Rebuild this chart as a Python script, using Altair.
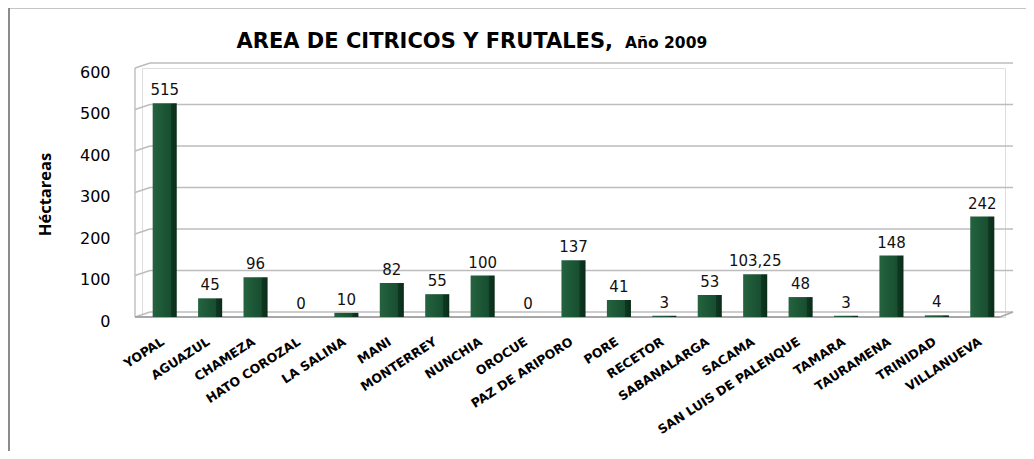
import altair as alt
import pandas as pd

municipios = ["YOPAL", "AGUAZUL", "CHAMEZA", "HATO COROZAL", "LA SALINA", "MANI",
              "MONTERREY", "NUNCHIA", "OROCUE", "PAZ DE ARIPORO", "PORE", "RECETOR",
              "SABANALARGA", "SACAMA", "SAN LUIS DE PALENQUE", "TAMARA", "TAURAMENA",
              "TRINIDAD", "VILLANUEVA"]
hectareas = [515, 45, 96, 0, 10, 82, 55, 100, 0, 137, 41, 3, 53, 103.25, 48, 3, 148, 4, 242]
etiquetas = ["515", "45", "96", "0", "10", "82", "55", "100", "0", "137", "41", "3",
             "53", "103,25", "48", "3", "148", "4", "242"]
y_ticks = [0, 100, 200, 300, 400, 500, 600]
title_main = "AREA DE CITRICOS Y FRUTALES,"
title_sub = "Año 2009"
y_title = "Héctareas"

W, H = 863, 249
PL, PT, PR, PB = 134, 60, 21, 134

df = pd.DataFrame({"municipio": municipios, "hectareas": hectareas, "etiqueta": etiquetas})
grid = pd.DataFrame({"v": y_ticks})
one = pd.DataFrame({"t": [title_main], "s": [title_sub]})

xscale = alt.Scale(domain=municipios, paddingInner=0.47, paddingOuter=0.235)
yscale = alt.Scale(domain=[y_ticks[0], y_ticks[-1]], nice=False, zero=True)

GRID = "#bdbdbd"

border = alt.Chart(one).mark_rect(fillOpacity=0, stroke="#8c8c8c", strokeWidth=2).encode(
    x=alt.value(-133), x2=alt.value(1200), y=alt.value(-60.5), y2=alt.value(1000))

back = alt.Chart(grid).mark_rule(color=GRID, strokeWidth=1.6, yOffset=-5).encode(
    x=alt.value(8), x2=alt.value(871),
    y=alt.Y("v:Q", scale=yscale,
            axis=alt.Axis(values=y_ticks, grid=False, domain=False, ticks=False,
                          labelPadding=32, labelOffset=4, labelFont="DejaVu Sans",
                          labelFontSize=16, labelColor="#000",
                          title=y_title, titleFont="Open Sans",
                          titleFontWeight="bold",
                          titleFontSize=16.5, titleColor="#000", titleAngle=270,
                          titleX=-97, titleY=126, titleAlign="center",
                          titleBaseline="middle")))

left_diag = alt.Chart(grid).mark_rule(color=GRID, strokeWidth=1.4, y2Offset=-5).encode(
    x=alt.value(-7), x2=alt.value(8), y="v:Q", y2=alt.Y2("v"))

front_vert = alt.Chart(one).mark_rule(color=GRID, strokeWidth=1.4).encode(
    x=alt.value(-7), y=alt.datum(y_ticks[0]), y2=alt.datum(y_ticks[-1]))

floor_front = alt.Chart(one).mark_rule(color="#a8a8a8", strokeWidth=2).encode(
    x=alt.value(-7), x2=alt.value(858), y=alt.datum(0))

floor_diag = alt.Chart(one).mark_rule(color="#a8a8a8", strokeWidth=1.6, y2Offset=-5).encode(
    x=alt.value(858), x2=alt.value(871), y=alt.datum(0), y2=alt.datum(0))

bar_fill = alt.Gradient(
    gradient="linear", x1=0, x2=1, y1=0, y2=0,
    stops=[alt.GradientStop(color="#25633f", offset=0),
           alt.GradientStop(color="#1c5636", offset=0.45),
           alt.GradientStop(color="#184e30", offset=0.74),
           alt.GradientStop(color="#0e3822", offset=0.76),
           alt.GradientStop(color="#0a2c19", offset=1)])

x_enc = alt.X("municipio:N", scale=xscale, sort=municipios,
              axis=alt.Axis(title=None, labelAngle=327, labelAlign="right",
                            labelBaseline="top", labelPadding=18, labelOffset=-5,
                            ticks=False,
                            domain=False, labelFont="DejaVu Sans", labelFontWeight="bold",
                            labelFontSize=12.5, labelColor="#000", labelLimit=300))

bars = alt.Chart(df).mark_bar(color=bar_fill).encode(
    x=x_enc, y=alt.Y("hectareas:Q", scale=yscale))

labels = alt.Chart(df).mark_text(font="DejaVu Sans", fontSize=15, baseline="alphabetic",
                                 dy=-8, color="#111").encode(
    x=alt.X("municipio:N", scale=xscale, sort=municipios),
    y=alt.Y("hectareas:Q", scale=yscale), text="etiqueta:N")

t_main = alt.Chart(one).mark_text(align="right", baseline="alphabetic", font="DejaVu Sans",
                                  fontWeight="bold", fontSize=21, color="#000").encode(
    x=alt.value(471), y=alt.value(-20), text="t:N")
t_sub = alt.Chart(one).mark_text(align="left", baseline="alphabetic", font="DejaVu Sans",
                                 fontWeight="bold", fontSize=15.5, color="#000").encode(
    x=alt.value(483), y=alt.value(-20.5), text="s:N")

chart = alt.layer(border, back, left_diag, front_vert, floor_front, floor_diag, bars,
                  labels, t_main, t_sub).properties(
    width=W, height=H, autosize=alt.AutoSizeParams(type="none"),
    padding={"left": PL, "top": PT, "right": PR, "bottom": PB}
).configure_view(stroke=None).configure(background="white")

chart.save("out.html", embed_options={"renderer": "svg", "actions": False})
